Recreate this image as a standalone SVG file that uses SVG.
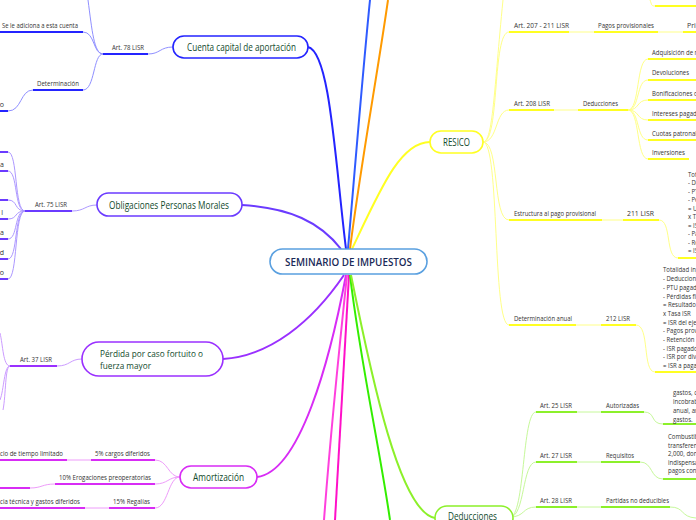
<svg xmlns="http://www.w3.org/2000/svg" width="696" height="520" viewBox="0 0 696 520">
<style>
.lb{font-family:"Open Sans","Noto Sans",sans-serif;font-size:7px;fill:#333}
.nd{font-family:"Open Sans","Noto Sans",sans-serif;font-size:10.5px;fill:#114a2c}
.nd2{font-family:"Open Sans","Noto Sans",sans-serif;font-size:9.6px;fill:#114a2c}
.ct{font-family:"Open Sans","Noto Sans",sans-serif;font-size:11.5px;font-weight:600;fill:#1a2a57}
.ul{stroke-width:2;fill:none}
.cv{stroke-width:1;fill:none}
.mn{stroke-width:2;fill:none}
.box{fill:#fff;stroke-width:1.6}
.c1{stroke:#2424ff}.c1l{stroke:#8f8fff}
.c2{stroke:#6b3bff}.c2l{stroke:#ad98ff}
.c3{stroke:#9a30ff}.c3l{stroke:#cc9cff}
.c4{stroke:#d82cf5}.c4l{stroke:#ee9cfa}
.c5{stroke:#ffff22}.c5l{stroke:#ffff88}
.c6{stroke:#8cf02a}.c6l{stroke:#c6f89a}
</style>
<rect width="696" height="520" fill="#fff"/>
<g id="connectors">
<path class="mn" stroke="#2f5bff" d="M348,249 C354,180 362,80 370,0"/>
<path class="mn" stroke="#ff9a00" d="M350,249 C360,170 378,70 388,0"/>
<path class="mn c1" d="M346,249 C335,160 330,52 308,47"/>
<path class="mn c5" d="M352,249 C380,190 400,142 430,142"/>
<path class="mn c2" d="M242,205 C290,208 320,222 341,249"/>
<path class="mn c3" d="M223,359 C270,356 312,322 344,275"/>
<path class="mn c4" d="M257,477 C300,472 330,360 346,275"/>
<path class="mn" stroke="#ff40dd" d="M347,275 C338,360 330,440 324,520"/>
<path class="mn" stroke="#ff10c8" d="M349,275 C344,360 339,440 335,520"/>
<path class="mn" stroke="#33ee00" d="M350,275 C360,360 380,450 390,520"/>
<path class="mn c6" d="M351,275 C372,380 400,512 435,518"/>
<path class="cv c1l" d="M148,54 C160,54 160,47 173,47"/>
<path class="cv c1l" d="M103,54 C94,54 92,30 88,0"/>
<path class="cv c1l" d="M83,32 C95,32 93,54 103,54"/>
<path class="cv c1l" d="M83,90 C95,90 93,54 103,54"/>
<path class="cv c1l" d="M33,90 C20,90 22,111 8,111"/>
<line class="ul c1" x1="103" y1="54" x2="148" y2="54"/>
<line class="ul c1" x1="0" y1="32" x2="83" y2="32"/>
<line class="ul c1" x1="33" y1="90" x2="83" y2="90"/>
<line class="ul c1" x1="0" y1="111" x2="8" y2="111"/>
<path class="cv c2l" d="M72,211 C85,211 85,205 97,205"/>
<path class="cv c2l" d="M25,211 C14,211 18,152 8,152"/>
<path class="cv c2l" d="M25,211 C14,211 18,171 8,171"/>
<path class="cv c2l" d="M25,211 C14,211 18,200 8,200"/>
<path class="cv c2l" d="M25,211 C14,211 18,219 8,219"/>
<path class="cv c2l" d="M25,211 C14,211 18,239 8,239"/>
<path class="cv c2l" d="M25,211 C14,211 18,259 8,259"/>
<path class="cv c2l" d="M25,211 C14,211 18,279 8,279"/>
<line class="ul c2" x1="25" y1="211" x2="72" y2="211"/>
<line class="ul c2" x1="0" y1="152" x2="8" y2="152"/>
<line class="ul c2" x1="0" y1="171" x2="8" y2="171"/>
<line class="ul c2" x1="0" y1="200" x2="8" y2="200"/>
<line class="ul c2" x1="0" y1="219" x2="8" y2="219"/>
<line class="ul c2" x1="0" y1="239" x2="8" y2="239"/>
<line class="ul c2" x1="0" y1="259" x2="8" y2="259"/>
<line class="ul c2" x1="0" y1="279" x2="8" y2="279"/>
<path class="cv c3l" d="M57,366 C70,366 70,359 82,359"/>
<path class="cv c3l" d="M10,366 C3,366 3,345 0,333"/>
<path class="cv c3l" d="M10,366 C4,366 4,390 0,400"/>
<path class="cv c3l" d="M10,366 C5,366 6,395 3,410"/>
<line class="ul c3" x1="10" y1="366" x2="57" y2="366"/>
<path class="cv c4l" d="M155,460 C168,460 168,477 180,477"/>
<path class="cv c4l" d="M155,484 C168,484 168,477 180,477"/>
<path class="cv c4l" d="M155,508 C168,508 168,477 180,477"/>
<line class="cv c4l" x1="67" y1="460" x2="91" y2="460"/>
<path class="cv c4l" d="M55,484 C42,484 42,488 30,488"/>
<line class="cv c4l" x1="85" y1="508" x2="109" y2="508"/>
<line class="ul c4" x1="91" y1="460" x2="155" y2="460"/>
<line class="ul c4" x1="0" y1="460" x2="67" y2="460"/>
<line class="ul c4" x1="55" y1="484" x2="155" y2="484"/>
<line class="ul c4" x1="0" y1="488" x2="30" y2="488"/>
<line class="ul c4" x1="109" y1="508" x2="155" y2="508"/>
<line class="ul c4" x1="0" y1="508" x2="85" y2="508"/>
<path class="cv c5l" d="M483,142 C493,142 494,90 503,0"/>
<path class="cv c5l" d="M483,142 C500,142 492,32 509,32"/>
<path class="cv c5l" d="M483,142 C498,142 495,110 509,110"/>
<path class="cv c5l" d="M483,142 C500,142 492,220 509,220"/>
<path class="cv c5l" d="M483,142 C500,142 492,325 509,325"/>
<path class="cv c5l" d="M650,0 C652,5 651,6 655,6"/>
<line class="cv c5l" x1="569" y1="32" x2="594" y2="32"/>
<line class="cv c5l" x1="658" y1="32" x2="683" y2="32"/>
<line class="cv c5l" x1="554" y1="110" x2="578" y2="110"/>
<path class="cv c5l" d="M628,110 C640,110 636,59 648,59"/>
<path class="cv c5l" d="M628,110 C640,110 636,80 648,80"/>
<path class="cv c5l" d="M628,110 C640,110 636,100 648,100"/>
<path class="cv c5l" d="M628,110 C640,110 636,120 648,120"/>
<path class="cv c5l" d="M628,110 C640,110 636,140 648,140"/>
<path class="cv c5l" d="M628,110 C640,110 636,159 648,159"/>
<line class="cv c5l" x1="602" y1="220" x2="623" y2="220"/>
<path class="cv c5l" d="M659,220 C672,220 665,258 678,258"/>
<line class="cv c5l" x1="576" y1="325" x2="601" y2="325"/>
<path class="cv c5l" d="M636,325 C650,325 642,372 655,372"/>
<line class="ul c5" x1="655" y1="6" x2="696" y2="6"/>
<line class="ul c5" x1="509" y1="32" x2="569" y2="32"/>
<line class="ul c5" x1="594" y1="32" x2="658" y2="32"/>
<line class="ul c5" x1="683" y1="32" x2="696" y2="32"/>
<line class="ul c5" x1="509" y1="110" x2="554" y2="110"/>
<line class="ul c5" x1="578" y1="110" x2="628" y2="110"/>
<line class="ul c5" x1="648" y1="59" x2="696" y2="59"/>
<line class="ul c5" x1="648" y1="80" x2="696" y2="80"/>
<line class="ul c5" x1="648" y1="100" x2="696" y2="100"/>
<line class="ul c5" x1="648" y1="120" x2="696" y2="120"/>
<line class="ul c5" x1="648" y1="140" x2="696" y2="140"/>
<line class="ul c5" x1="648" y1="159" x2="689" y2="159"/>
<line class="ul c5" x1="509" y1="220" x2="602" y2="220"/>
<line class="ul c5" x1="623" y1="220" x2="659" y2="220"/>
<line class="ul c5" x1="678" y1="258" x2="696" y2="258"/>
<line class="ul c5" x1="509" y1="325" x2="576" y2="325"/>
<line class="ul c5" x1="601" y1="325" x2="636" y2="325"/>
<line class="ul c5" x1="655" y1="372" x2="696" y2="372"/>
<path class="cv c6l" d="M510,517 C525,517 522,412 536,412"/>
<path class="cv c6l" d="M510,517 C525,517 522,462 536,462"/>
<path class="cv c6l" d="M510,517 C525,517 522,507 536,507"/>
<line class="cv c6l" x1="577" y1="412" x2="601" y2="412"/>
<line class="cv c6l" x1="577" y1="462" x2="601" y2="462"/>
<line class="cv c6l" x1="577" y1="507" x2="601" y2="507"/>
<path class="cv c6l" d="M644,412 C656,412 650,424 663,424"/>
<path class="cv c6l" d="M640,462 C653,462 650,479 663,479"/>
<path class="cv c6l" d="M670,507 C685,507 680,517 696,518"/>
<line class="ul c6" x1="536" y1="412" x2="577" y2="412"/>
<line class="ul c6" x1="601" y1="412" x2="644" y2="412"/>
<line class="ul c6" x1="663" y1="424" x2="696" y2="424"/>
<line class="ul c6" x1="536" y1="462" x2="577" y2="462"/>
<line class="ul c6" x1="601" y1="462" x2="640" y2="462"/>
<line class="ul c6" x1="663" y1="479" x2="696" y2="479"/>
<line class="ul c6" x1="536" y1="507" x2="577" y2="507"/>
<line class="ul c6" x1="601" y1="507" x2="670" y2="507"/>
</g>
<g id="center">
<rect class="box" x="270" y="249" width="157" height="25" rx="12.5" stroke="#5aa0e0"/>
<text class="ct" x="348.5" y="266" text-anchor="middle" textLength="127" lengthAdjust="spacingAndGlyphs">SEMINARIO DE IMPUESTOS</text>
</g>
<g id="cuenta">
<rect class="box c1" x="173" y="36" width="135" height="22" rx="11"/>
<text class="nd" x="187" y="51" textLength="109" lengthAdjust="spacingAndGlyphs">Cuenta capital de aportación</text>
<text class="lb" x="112" y="50" textLength="32" lengthAdjust="spacingAndGlyphs">Art. 78 LISR</text>
<text class="lb" x="2" y="28" textLength="76" lengthAdjust="spacingAndGlyphs">Se le adiciona a esta cuenta</text>
<text class="lb" x="37" y="86" textLength="42" lengthAdjust="spacingAndGlyphs">Determinación</text>
<text class="lb" x="4" y="107" text-anchor="end">o</text>
</g>
<g id="obligaciones">
<rect class="box c2" x="97" y="193" width="145" height="23" rx="11.5"/>
<text class="nd" x="109" y="209" textLength="120" lengthAdjust="spacingAndGlyphs">Obligaciones Personas Morales</text>
<text class="lb" x="35" y="207" textLength="32" lengthAdjust="spacingAndGlyphs">Art. 75 LISR</text>
<text class="lb" x="4" y="167" text-anchor="end">a</text>
<text class="lb" x="3" y="215" text-anchor="end">l</text>
<text class="lb" x="4" y="235" text-anchor="end">a</text>
<text class="lb" x="4" y="255" text-anchor="end">d</text>
<text class="lb" x="4" y="275" text-anchor="end">o</text>
</g>
<g id="perdida">
<rect class="box c3" x="82" y="342" width="141" height="34" rx="17"/>
<text class="nd2" x="100" y="356.5" textLength="103" lengthAdjust="spacingAndGlyphs">Pérdida por caso fortuito o</text>
<text class="nd2" x="100" y="369" textLength="51" lengthAdjust="spacingAndGlyphs">fuerza mayor</text>
<text class="lb" x="20" y="362" textLength="32" lengthAdjust="spacingAndGlyphs">Art. 37 LISR</text>
</g>
<g id="amortizacion">
<rect class="box c4" x="180" y="466" width="77" height="22" rx="11"/>
<text class="nd" x="193" y="481" textLength="51" lengthAdjust="spacingAndGlyphs">Amortización</text>
<text class="lb" x="95" y="456" textLength="55" lengthAdjust="spacingAndGlyphs">5% cargos diferidos</text>
<text class="lb" x="0" y="456" textLength="63" lengthAdjust="spacingAndGlyphs">cio de tiempo limitado</text>
<text class="lb" x="59" y="480" textLength="92" lengthAdjust="spacingAndGlyphs">10% Erogaciones preoperatorias</text>
<text class="lb" x="113" y="504" textLength="37" lengthAdjust="spacingAndGlyphs">15% Regalías</text>
<text class="lb" x="0" y="504" textLength="80" lengthAdjust="spacingAndGlyphs">cia técnica y gastos diferidos</text>
</g>
<g id="resico">
<rect class="box c5" x="430" y="131" width="53" height="22" rx="11"/>
<text class="nd" x="443" y="146" textLength="27" lengthAdjust="spacingAndGlyphs">RESICO</text>
<text class="lb" x="514" y="28" textLength="55" lengthAdjust="spacingAndGlyphs">Art. 207 - 211 LISR</text>
<text class="lb" x="598" y="28" textLength="56" lengthAdjust="spacingAndGlyphs">Pagos provisionales</text>
<text class="lb" x="687" y="28">Pri</text>
<text class="lb" x="514" y="106" textLength="36" lengthAdjust="spacingAndGlyphs">Art. 208 LISR</text>
<text class="lb" x="583" y="106" textLength="35" lengthAdjust="spacingAndGlyphs">Deducciones</text>
<g transform="translate(652,0) scale(0.86,1)">
<text class="lb" x="0" y="55">Adquisición de mercancías</text>
<text class="lb" x="0" y="96">Bonificaciones o descuentos</text>
<text class="lb" x="0" y="116">Intereses pagados</text>
<text class="lb" x="0" y="136">Cuotas patronales</text>
</g>
<text class="lb" x="652" y="75" textLength="37" lengthAdjust="spacingAndGlyphs">Devoluciones</text>
<text class="lb" x="652" y="155" textLength="33" lengthAdjust="spacingAndGlyphs">Inversiones</text>
<text class="lb" x="514" y="216" textLength="82" lengthAdjust="spacingAndGlyphs">Estructura al pago provisional</text>
<text class="lb" x="627" y="216" textLength="27" lengthAdjust="spacingAndGlyphs">211 LISR</text>
<g transform="translate(688,0) scale(0.86,1)">
<text class="lb" x="0" y="177">Total de ingresos</text>
<text class="lb" x="0" y="185.5">- Deducciones</text>
<text class="lb" x="0" y="194">- PTU pagada</text>
<text class="lb" x="0" y="202.5">- Pérdidas fiscales</text>
<text class="lb" x="0" y="211">= Utilidad fiscal</text>
<text class="lb" x="0" y="219.5">x Tasa ISR</text>
<text class="lb" x="0" y="228">= ISR</text>
<text class="lb" x="0" y="236.5">- Pagos provisionales</text>
<text class="lb" x="0" y="245">- Retención</text>
<text class="lb" x="0" y="253.5">= ISR a pagar</text>
</g>
<text class="lb" x="514" y="321" textLength="58" lengthAdjust="spacingAndGlyphs">Determinación anual</text>
<text class="lb" x="606" y="321" textLength="24" lengthAdjust="spacingAndGlyphs">212 LISR</text>
<g transform="translate(663,0) scale(0.86,1)">
<text class="lb" x="0" y="272.5">Totalidad ingresos</text>
<text class="lb" x="0" y="281.2">- Deducciones</text>
<text class="lb" x="0" y="289.9">- PTU pagada</text>
<text class="lb" x="0" y="298.6">- Pérdidas fiscales</text>
<text class="lb" x="0" y="307.3">= Resultado fiscal</text>
<text class="lb" x="0" y="316">x Tasa ISR</text>
<text class="lb" x="0" y="324.7">= ISR del ejercicio</text>
<text class="lb" x="0" y="333.4">- Pagos provisionales</text>
<text class="lb" x="0" y="342.1">- Retención</text>
<text class="lb" x="0" y="350.8">- ISR pagado</text>
<text class="lb" x="0" y="359.5">- ISR por dividendos</text>
<text class="lb" x="0" y="368.2">= ISR a pagar</text>
</g>
</g>
<g id="deducciones">
<rect class="box c6" x="435" y="506" width="78" height="24" rx="12"/>
<text class="nd" x="448" y="520" textLength="49" lengthAdjust="spacingAndGlyphs">Deducciones</text>
<text class="lb" x="540" y="408" textLength="32" lengthAdjust="spacingAndGlyphs">Art. 25 LISR</text>
<text class="lb" x="606" y="408" textLength="33" lengthAdjust="spacingAndGlyphs">Autorizadas</text>
<text class="lb" x="540" y="458" textLength="32" lengthAdjust="spacingAndGlyphs">Art. 27 LISR</text>
<text class="lb" x="606" y="458" textLength="28" lengthAdjust="spacingAndGlyphs">Requisitos</text>
<text class="lb" x="540" y="503" textLength="32" lengthAdjust="spacingAndGlyphs">Art. 28 LISR</text>
<text class="lb" x="606" y="503" textLength="63" lengthAdjust="spacingAndGlyphs">Partidas no deducibles</text>
<g transform="translate(673,0) scale(0.86,1)">
<text class="lb" x="0" y="395.5">gastos, cuentas</text>
<text class="lb" x="0" y="404.5">incobrables</text>
<text class="lb" x="0" y="413.5">anual, amortización</text>
<text class="lb" x="0" y="422">gastos.</text>
</g>
<g transform="translate(668,0) scale(0.86,1)">
<text class="lb" x="0" y="439.5">Combustibles</text>
<text class="lb" x="0" y="448">transferencias</text>
<text class="lb" x="0" y="456.5">2,000, donativos</text>
<text class="lb" x="0" y="465">indispensables</text>
<text class="lb" x="0" y="473.5">pagos con</text>
</g>
</g>
</svg>
